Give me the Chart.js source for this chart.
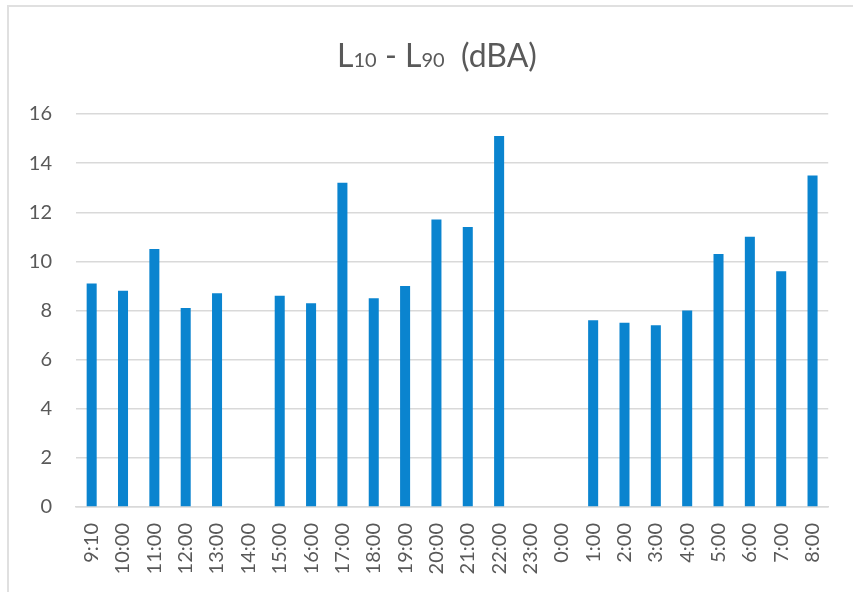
<!DOCTYPE html>
<html>
<head>
<meta charset="utf-8">
<script src="https://cdn.jsdelivr.net/npm/chart.js@4/dist/chart.umd.min.js"></script>
<style>
  html, body { margin: 0; padding: 0; background: #fff; overflow: hidden; }
  #wrap { position: relative; width: 853px; height: 592px; }
  #frame { position: absolute; left: 7px; top: 5px; width: 900px; height: 700px; border: 2px solid #e0e0e0; box-sizing: border-box; }
  #title { position: absolute; left: 0; width: 874px; top: 37px; text-align: center; font-family: Lato, sans-serif; color: #595959; font-size: 32px; line-height: 36px; white-space: pre; }
  #title .s { font-size: 20px; }
  canvas { position: absolute; left: 0; top: 0; }
</style>
</head>
<body>
<div id="wrap">
  <div id="frame"></div>
  <canvas id="c" width="853" height="592"></canvas>
  <div id="title">L<span class="s">10</span> - L<span class="s">90</span>  (dBA)</div>
</div>
<script>
const categories = ["9:10","10:00","11:00","12:00","13:00","14:00","15:00","16:00","17:00","18:00","19:00","20:00","21:00","22:00","23:00","0:00","1:00","2:00","3:00","4:00","5:00","6:00","7:00","8:00"];
const l10MinusL90 = [9.1, 8.8, 10.5, 8.1, 8.7, null, 8.6, 8.3, 13.2, 8.5, 9.0, 11.7, 11.4, 15.1, null, null, 7.6, 7.5, 7.4, 8.0, 10.3, 11.0, 9.6, 13.5];
const yTicks = [0, 2, 4, 6, 8, 10, 12, 14, 16];

const textColor = '#595959';
const fontFamily = 'Lato, sans-serif';

new Chart(document.getElementById('c'), {
  type: 'bar',
  data: {
    labels: categories,
    datasets: [{
      label: 'L10 - L90 (dBA)',
      data: l10MinusL90,
      backgroundColor: '#0a84cf',
      borderWidth: 0,
      barPercentage: 0.32,
      categoryPercentage: 1.0
    }]
  },
  options: {
    responsive: false,
    animation: false,
    devicePixelRatio: 1,
    layout: { padding: { left: 0, right: 22, top: 114, bottom: 0 } },
    plugins: {
      legend: { display: false },
      title: { display: false },
      tooltip: { enabled: false }
    },
    scales: {
      x: {
        grid: { display: false, drawTicks: false },
        border: { display: true, color: '#d9d9d9', width: 1.5 },
        ticks: {
          color: textColor,
          font: { family: fontFamily, size: 20 },
          minRotation: 90,
          maxRotation: 90,
          autoSkip: false,
          padding: 16
        },
        afterFit: (s) => { s.height = 85; }
      },
      y: {
        min: yTicks[0],
        max: yTicks[yTicks.length - 1],
        afterBuildTicks: (s) => { s.ticks = yTicks.map(v => ({ value: v })); },
        grid: { color: '#d9d9d9', lineWidth: 1.5, drawTicks: false },
        border: { display: false },
        ticks: {
          color: textColor,
          font: { family: fontFamily, size: 20 },
          padding: 24
        },
        afterFit: (s) => { s.width = 76; }
      }
    }
  }
});
</script>
</body>
</html>
